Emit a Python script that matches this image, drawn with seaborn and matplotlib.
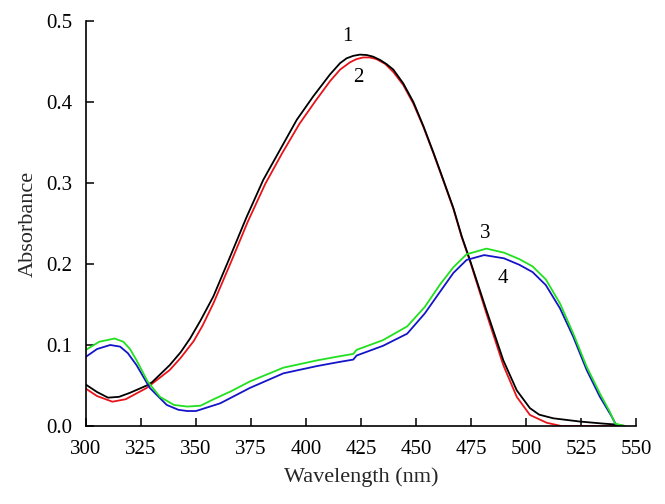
import numpy as np
import pandas as pd
import matplotlib
matplotlib.use("Agg")
import matplotlib.pyplot as plt
import seaborn as sns

# ---- data ----
wl_1 = [300, 305, 310, 315, 320, 327.6, 330, 338, 343, 347.3, 352, 357.9, 365.5, 373, 380.6,
        388.2, 395.8, 403.3, 410.9, 415.5, 418.5, 421.5, 424.5, 427.6, 430.5, 433.6, 436.5,
        439.7, 444.2, 448.8, 453.4, 458, 462.4, 467, 470.8, 474.5, 482, 489.7, 495.8, 501.8,
        506, 512.4, 524.5, 535, 540, 545]
abs_1 = [0.051, 0.042, 0.035, 0.036, 0.041, 0.050, 0.054, 0.075, 0.091, 0.108, 0.130, 0.160,
         0.209, 0.258, 0.304, 0.341, 0.378, 0.407, 0.434, 0.448, 0.454, 0.457, 0.4585, 0.458,
         0.456, 0.452, 0.447, 0.440, 0.423, 0.400, 0.370, 0.337, 0.304, 0.269, 0.234, 0.205,
         0.143, 0.081, 0.044, 0.022, 0.014, 0.0095, 0.0055, 0.003, 0.002, 0.0]

wl_2 = [300, 305, 312, 318, 327.6, 338, 343, 349, 353, 358, 366, 373.5, 381.5, 389, 397,
        404.5, 411, 415.5, 420, 423, 426, 429, 432, 436, 439.7, 444.2, 448.8, 453.4, 458,
        462.4, 467, 470.8, 474.5, 482, 489.7, 495.8, 501.8, 509.4, 516, 545]
abs_2 = [0.046, 0.037, 0.030, 0.033, 0.047, 0.069, 0.084, 0.105, 0.124, 0.152, 0.203, 0.252,
         0.299, 0.336, 0.373, 0.402, 0.426, 0.440, 0.449, 0.453, 0.455, 0.455, 0.453, 0.447,
         0.437, 0.421, 0.398, 0.369, 0.336, 0.303, 0.268, 0.233, 0.204, 0.139, 0.075, 0.036,
         0.0136, 0.004, 0.0, 0.0]

wl_3 = [300, 306, 313, 317, 320, 323, 328, 333.6, 340, 346, 352, 358, 366, 374.5, 389.7, 405,
        415, 421.5, 423, 435, 446, 454, 461, 467, 473, 482, 490, 497, 503, 509, 515.5,
        521.5, 527.6, 533.6, 538, 540.5, 545]
abs_3 = [0.094, 0.104, 0.108, 0.104, 0.095, 0.081, 0.055, 0.036, 0.026, 0.024, 0.025, 0.033,
         0.043, 0.055, 0.072, 0.081, 0.086, 0.089, 0.094, 0.106, 0.123, 0.147, 0.175, 0.196,
         0.212, 0.219, 0.214, 0.206, 0.197, 0.181, 0.151, 0.114, 0.073, 0.040, 0.018, 0.003,
         0.0]

wl_4 = [300, 305, 311, 315.5, 319, 323, 329, 336.7, 342, 346, 350, 361, 374.5, 389.7, 405,
        415, 421.5, 423, 435, 446, 454, 461, 467, 473, 481, 490, 497, 503, 509, 515.5,
        521.5, 527.6, 533.6, 539, 541]
abs_4 = [0.0855, 0.095, 0.100, 0.098, 0.090, 0.075, 0.047, 0.026, 0.020, 0.0185, 0.0185,
         0.028, 0.047, 0.065, 0.074, 0.079, 0.082, 0.087, 0.099, 0.114, 0.139, 0.166, 0.189,
         0.205, 0.211, 0.207, 0.199, 0.190, 0.174, 0.145, 0.110, 0.069, 0.036, 0.0115, 0.001]

series_names = ["2", "1", "4", "3"]
series_colors = ["#e8141a", "#000000", "#1414c8", "#20e020"]
x_ticks = [300, 325, 350, 375, 400, 425, 450, 475, 500, 525, 550]
y_ticks = [0.0, 0.1, 0.2, 0.3, 0.4, 0.5]
label_pos = {"1": (419, 0.481), "2": (424, 0.430), "3": (481.5, 0.238), "4": (489.5, 0.182)}

frames = []
for name, wl, ab in [("2", wl_2, abs_2), ("1", wl_1, abs_1), ("4", wl_4, abs_4), ("3", wl_3, abs_3)]:
    frames.append(pd.DataFrame({"Wavelength": wl, "Absorbance": ab, "curve": name}))
df = pd.concat(frames, ignore_index=True)

sns.set_theme(style="ticks")
plt.rcParams["font.family"] = ["Liberation Serif", "DejaVu Serif"]

fig = plt.figure(figsize=(6.65, 5.04), dpi=100)
ax = fig.add_axes([86 / 665, 78 / 504, 550 / 665, 405 / 504])

sns.lineplot(data=df, x="Wavelength", y="Absorbance", hue="curve",
             hue_order=series_names, palette=dict(zip(series_names, series_colors)),
             estimator=None, sort=False, linewidth=1.3, legend=False, ax=ax)

ax.set_xlim(300, 550)
ax.set_ylim(0, 0.5)
ax.set_xticks(x_ticks)
ax.set_yticks(y_ticks)
ax.set_xticklabels([str(t) for t in x_ticks])
ax.set_yticklabels([f"{t:.1f}" for t in y_ticks])
ax.tick_params(direction="in", length=5.5, width=1.1, labelsize=15, colors="black")
ax.tick_params(axis="x", pad=10)
ax.tick_params(axis="y", pad=10)
ax.spines["top"].set_visible(False)
ax.spines["right"].set_visible(False)
for s in ["left", "bottom"]:
    ax.spines[s].set_linewidth(1.2)
    ax.spines[s].set_color("black")

ax.set_xlabel("Wavelength (nm)", fontsize=16, labelpad=6)
ax.set_ylabel("Absorbance", fontsize=16, labelpad=6)

for k, (x, y) in label_pos.items():
    ax.text(x, y, k, fontsize=15, ha="center", va="center", color="black")

fig.savefig("out.png", dpi=100)
